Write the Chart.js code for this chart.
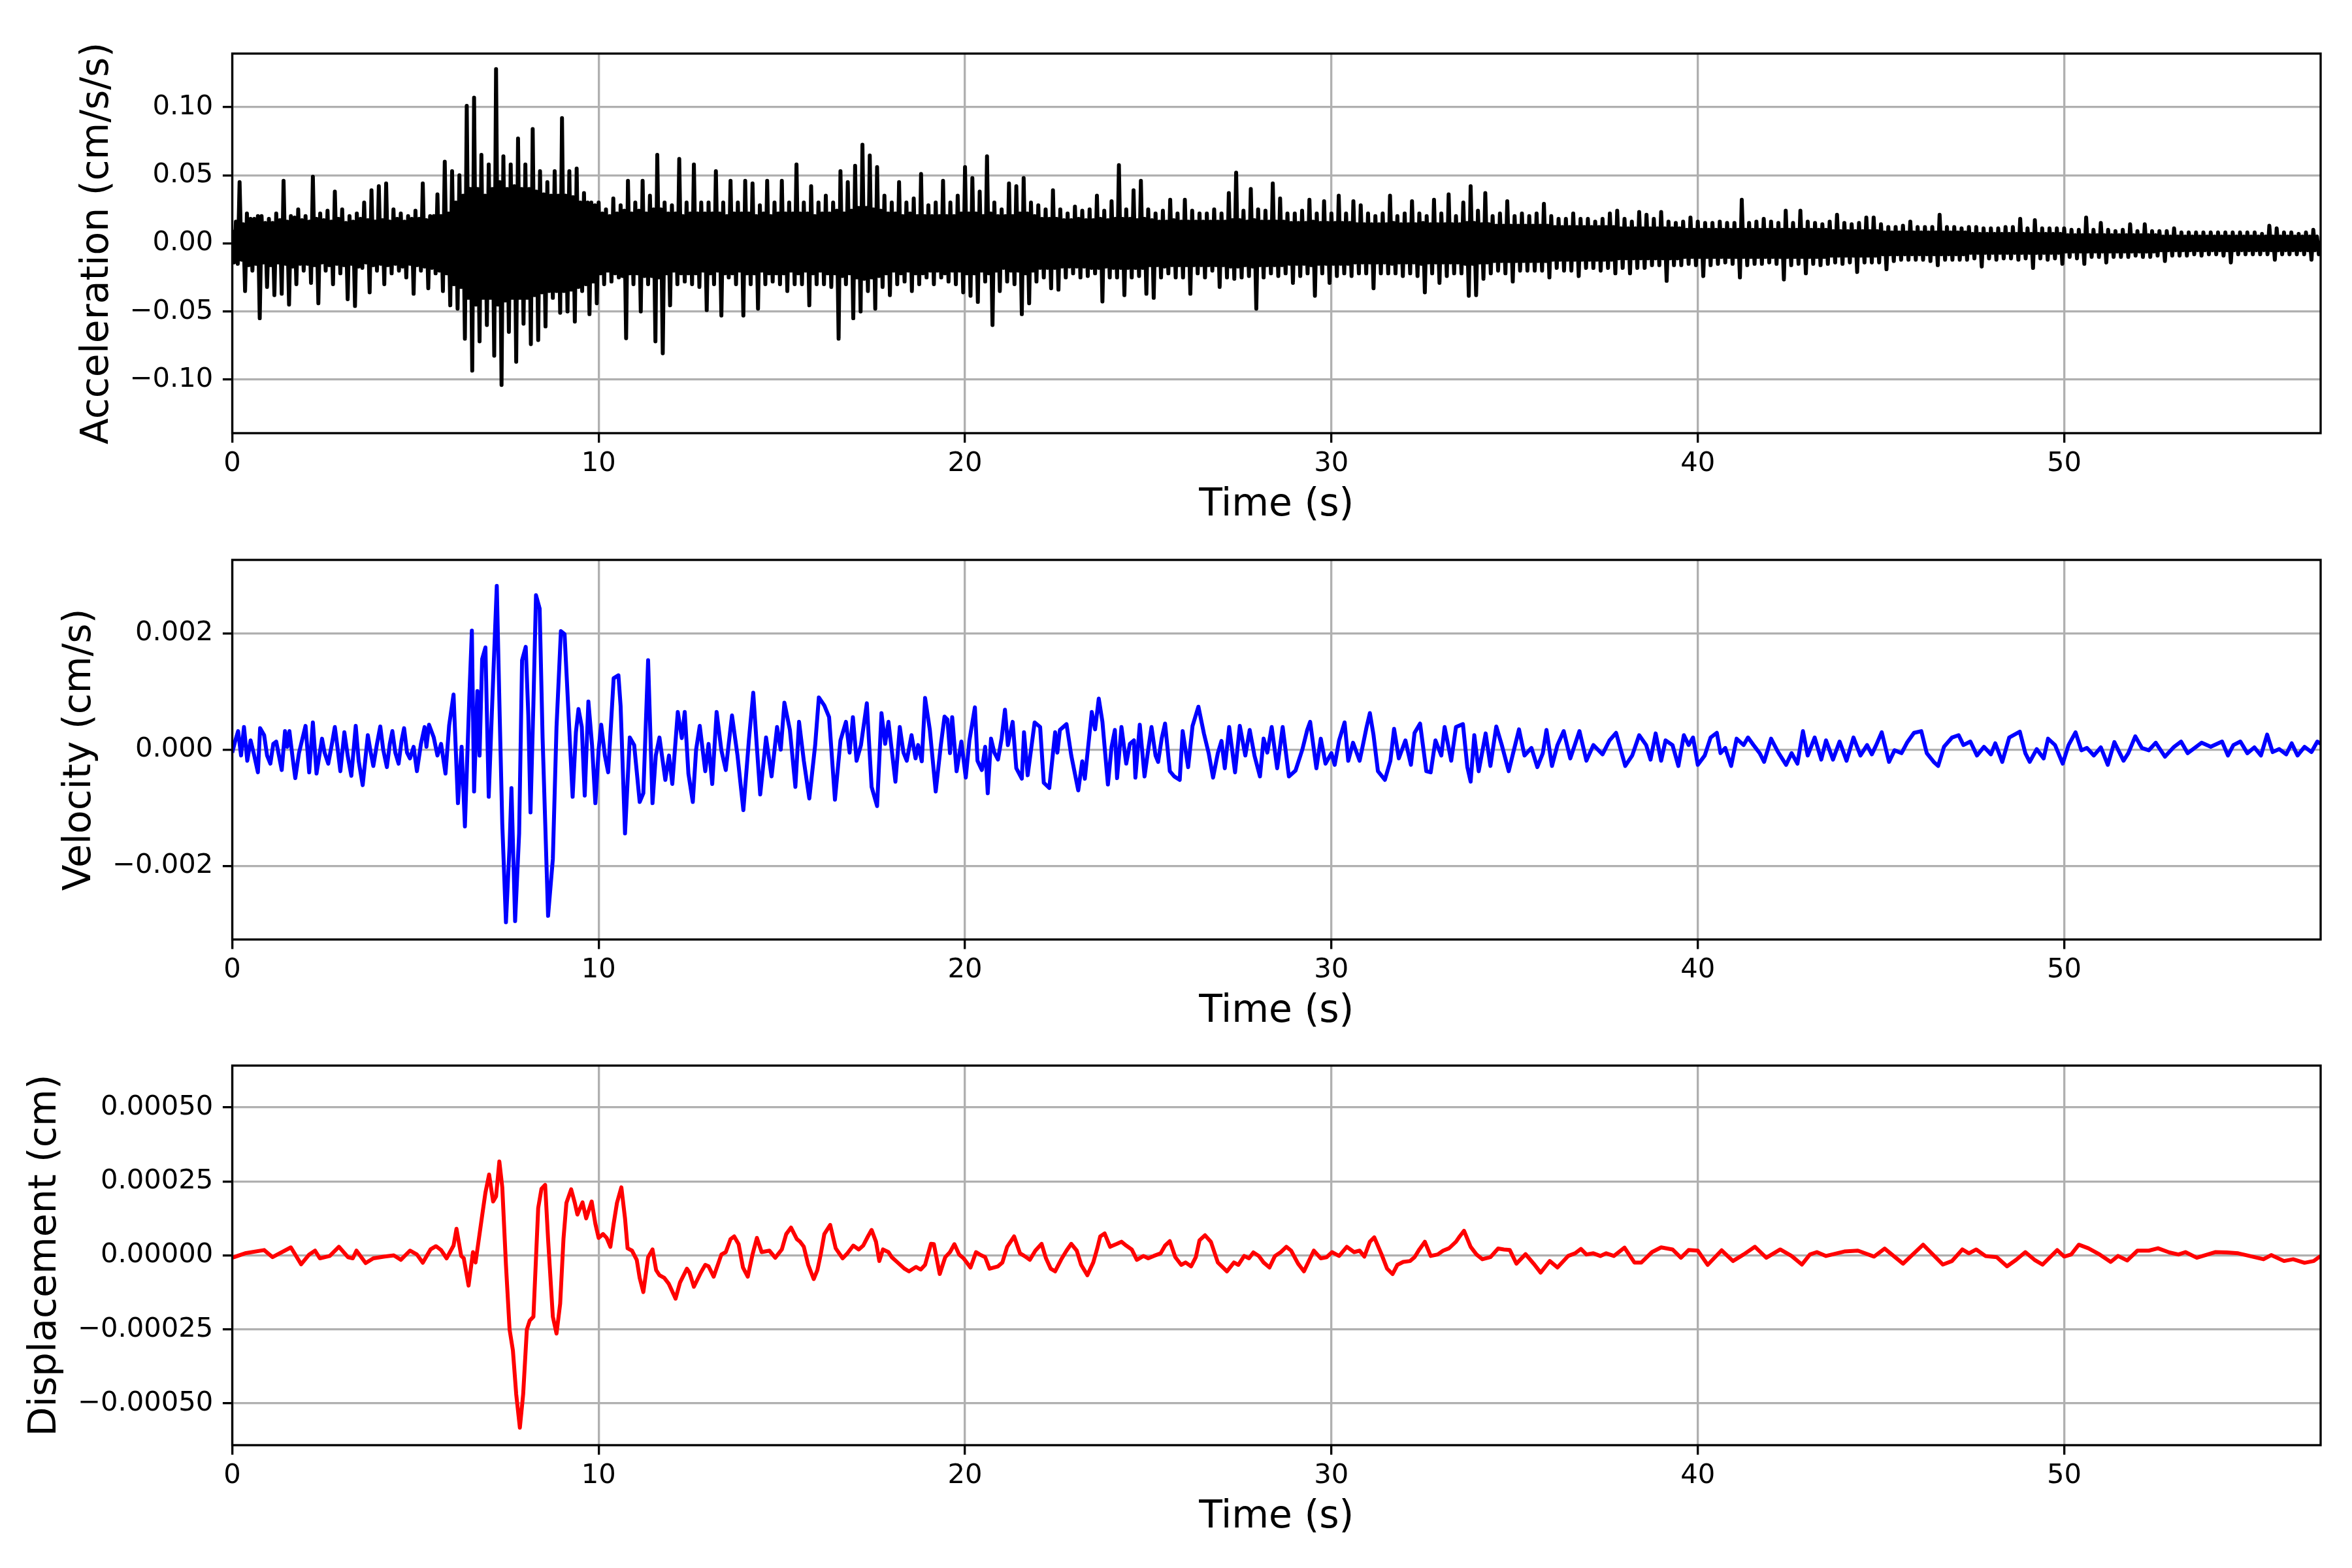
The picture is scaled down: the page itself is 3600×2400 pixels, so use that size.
<!DOCTYPE html>
<html>
<head>
<meta charset="utf-8">
<script src="https://cdn.jsdelivr.net/npm/chart.js@4.4.1/dist/chart.umd.min.js"></script>
<style>
  html, body { margin: 0; padding: 0; background: #fff; }
  body { width: 3600px; height: 2400px; position: relative; overflow: hidden; }
  canvas { position: absolute; left: 0; }
</style>
</head>
<body>
<canvas id="acc" width="3600" height="813" style="top:0px"></canvas>
<canvas id="vel" width="3600" height="771" style="top:817px"></canvas>
<canvas id="disp" width="3600" height="771" style="top:1591px"></canvas>
<script>
// time axis
const timeTicks = [0, 10, 20, 30, 40, 50];
const timeMax = 57.0;

// acceleration: upper and lower swing in each 0.1 s slot (lower one half a slot later)
const accStep = 0.1;
const accUpper = [
  0.01,0.016,0.045,0.014,0.022,0.018,0.018,0.02,0.02,0.015,
  0.018,0.015,0.022,0.017,0.046,0.016,0.02,0.019,0.025,0.017,
  0.02,0.016,0.049,0.018,0.022,0.017,0.024,0.016,0.038,0.018,
  0.025,0.015,0.02,0.016,0.022,0.018,0.03,0.017,0.039,0.016,
  0.042,0.017,0.044,0.016,0.025,0.018,0.022,0.016,0.02,0.018,
  0.024,0.018,0.044,0.017,0.02,0.02,0.036,0.02,0.06,0.022,
  0.053,0.03,0.05,0.035,0.101,0.04,0.107,0.04,0.065,0.035,
  0.058,0.04,0.128,0.045,0.064,0.04,0.058,0.042,0.077,0.04,
  0.058,0.04,0.084,0.038,0.053,0.036,0.045,0.035,0.053,0.035,
  0.092,0.035,0.053,0.034,0.055,0.03,0.037,0.03,0.03,0.028,
  0.03,0.022,0.025,0.02,0.033,0.022,0.028,0.024,0.046,0.022,
  0.03,0.024,0.046,0.022,0.035,0.025,0.065,0.025,0.03,0.022,
  0.028,0.022,0.062,0.02,0.03,0.022,0.058,0.022,0.03,0.022,
  0.03,0.022,0.053,0.022,0.03,0.02,0.046,0.022,0.03,0.022,
  0.046,0.022,0.044,0.02,0.028,0.022,0.046,0.02,0.03,0.022,
  0.046,0.022,0.03,0.022,0.058,0.022,0.03,0.022,0.042,0.02,
  0.03,0.022,0.035,0.022,0.03,0.024,0.053,0.022,0.045,0.024,
  0.057,0.026,0.0725,0.026,0.0645,0.025,0.056,0.024,0.035,0.022,
  0.03,0.022,0.045,0.02,0.03,0.022,0.033,0.02,0.051,0.02,
  0.028,0.02,0.03,0.02,0.046,0.02,0.03,0.02,0.035,0.022,
  0.056,0.022,0.048,0.022,0.038,0.02,0.064,0.022,0.03,0.02,
  0.025,0.02,0.044,0.02,0.042,0.022,0.048,0.022,0.03,0.02,
  0.028,0.018,0.025,0.018,0.039,0.018,0.025,0.017,0.022,0.017,
  0.027,0.018,0.024,0.017,0.025,0.017,0.035,0.018,0.024,0.017,
  0.031,0.018,0.0575,0.018,0.025,0.018,0.039,0.017,0.046,0.018,
  0.025,0.017,0.022,0.016,0.024,0.016,0.032,0.017,0.022,0.016,
  0.032,0.016,0.024,0.016,0.022,0.016,0.022,0.016,0.025,0.016,
  0.022,0.016,0.037,0.017,0.052,0.017,0.024,0.016,0.04,0.017,
  0.025,0.016,0.024,0.016,0.044,0.016,0.033,0.016,0.022,0.015,
  0.022,0.015,0.024,0.015,0.032,0.016,0.022,0.015,0.031,0.015,
  0.022,0.015,0.035,0.015,0.022,0.015,0.031,0.014,0.028,0.014,
  0.022,0.014,0.02,0.014,0.022,0.014,0.035,0.015,0.02,0.014,
  0.022,0.014,0.031,0.014,0.022,0.015,0.02,0.014,0.032,0.014,
  0.022,0.014,0.036,0.014,0.02,0.014,0.03,0.015,0.042,0.015,
  0.024,0.014,0.037,0.014,0.02,0.013,0.022,0.013,0.031,0.013,
  0.02,0.013,0.022,0.013,0.02,0.013,0.022,0.013,0.029,0.013,
  0.02,0.012,0.018,0.012,0.018,0.012,0.022,0.012,0.018,0.012,
  0.018,0.012,0.016,0.012,0.018,0.012,0.022,0.012,0.024,0.011,
  0.018,0.011,0.016,0.011,0.023,0.011,0.021,0.011,0.018,0.011,
  0.023,0.011,0.016,0.011,0.015,0.011,0.016,0.01,0.019,0.01,
  0.016,0.01,0.015,0.01,0.015,0.01,0.016,0.01,0.015,0.01,
  0.015,0.01,0.032,0.01,0.015,0.01,0.016,0.01,0.018,0.01,
  0.016,0.01,0.015,0.01,0.024,0.01,0.015,0.01,0.024,0.01,
  0.016,0.01,0.015,0.01,0.014,0.01,0.016,0.009,0.021,0.009,
  0.015,0.009,0.014,0.009,0.015,0.009,0.019,0.009,0.019,0.009,
  0.014,0.008,0.012,0.008,0.012,0.008,0.013,0.008,0.016,0.008,
  0.012,0.008,0.012,0.008,0.012,0.008,0.021,0.008,0.012,0.008,
  0.012,0.008,0.011,0.008,0.012,0.007,0.012,0.007,0.011,0.007,
  0.011,0.007,0.011,0.007,0.012,0.007,0.012,0.007,0.018,0.007,
  0.011,0.007,0.017,0.007,0.011,0.007,0.011,0.007,0.011,0.007,
  0.011,0.006,0.01,0.006,0.01,0.006,0.019,0.006,0.01,0.006,
  0.015,0.006,0.01,0.006,0.009,0.006,0.01,0.006,0.014,0.006,
  0.009,0.006,0.014,0.006,0.009,0.006,0.009,0.005,0.009,0.005,
  0.011,0.005,0.008,0.005,0.008,0.005,0.008,0.005,0.008,0.005,
  0.008,0.005,0.008,0.005,0.008,0.005,0.008,0.005,0.008,0.005,
  0.008,0.005,0.008,0.005,0.007,0.005,0.013,0.005,0.011,0.005,
  0.008,0.005,0.008,0.005,0.007,0.005,0.008,0.005,0.01,0.005,
  0.002
];
const accLower = [
  -0.014,-0.015,-0.012,-0.035,-0.016,-0.02,-0.015,-0.055,-0.014,-0.032,
  -0.016,-0.038,-0.014,-0.037,-0.015,-0.045,-0.017,-0.03,-0.015,-0.02,
  -0.015,-0.029,-0.016,-0.044,-0.014,-0.02,-0.016,-0.03,-0.015,-0.022,
  -0.016,-0.041,-0.015,-0.046,-0.017,-0.018,-0.014,-0.036,-0.016,-0.02,
  -0.015,-0.03,-0.016,-0.022,-0.015,-0.02,-0.017,-0.025,-0.015,-0.037,
  -0.016,-0.02,-0.017,-0.033,-0.018,-0.022,-0.02,-0.035,-0.022,-0.0455,
  -0.03,-0.048,-0.032,-0.07,-0.04,-0.0935,-0.045,-0.072,-0.04,-0.06,
  -0.04,-0.0825,-0.045,-0.104,-0.042,-0.065,-0.04,-0.087,-0.04,-0.059,
  -0.04,-0.074,-0.038,-0.071,-0.036,-0.061,-0.035,-0.04,-0.035,-0.051,
  -0.035,-0.05,-0.034,-0.0575,-0.032,-0.035,-0.03,-0.052,-0.028,-0.044,
  -0.022,-0.03,-0.02,-0.028,-0.022,-0.025,-0.024,-0.0697,-0.022,-0.03,
  -0.022,-0.05,-0.024,-0.03,-0.024,-0.072,-0.025,-0.0807,-0.022,-0.0455,
  -0.02,-0.03,-0.022,-0.028,-0.022,-0.03,-0.022,-0.032,-0.02,-0.049,
  -0.022,-0.03,-0.02,-0.053,-0.022,-0.025,-0.022,-0.03,-0.02,-0.053,
  -0.022,-0.03,-0.022,-0.048,-0.02,-0.03,-0.022,-0.028,-0.022,-0.03,
  -0.022,-0.035,-0.02,-0.03,-0.022,-0.03,-0.02,-0.0455,-0.022,-0.03,
  -0.02,-0.03,-0.022,-0.032,-0.022,-0.07,-0.024,-0.03,-0.022,-0.055,
  -0.025,-0.05,-0.026,-0.035,-0.025,-0.048,-0.024,-0.032,-0.022,-0.038,
  -0.02,-0.03,-0.022,-0.028,-0.02,-0.035,-0.022,-0.03,-0.022,-0.025,
  -0.02,-0.03,-0.02,-0.025,-0.022,-0.028,-0.02,-0.03,-0.02,-0.036,
  -0.022,-0.0385,-0.022,-0.043,-0.02,-0.028,-0.022,-0.06,-0.02,-0.035,
  -0.018,-0.028,-0.02,-0.03,-0.02,-0.052,-0.022,-0.044,-0.02,-0.028,
  -0.018,-0.025,-0.018,-0.033,-0.018,-0.034,-0.017,-0.025,-0.017,-0.022,
  -0.017,-0.025,-0.017,-0.024,-0.018,-0.022,-0.018,-0.0427,-0.017,-0.025,
  -0.018,-0.025,-0.018,-0.038,-0.018,-0.025,-0.018,-0.024,-0.018,-0.037,
  -0.016,-0.04,-0.016,-0.025,-0.017,-0.022,-0.016,-0.025,-0.016,-0.025,
  -0.016,-0.037,-0.016,-0.022,-0.016,-0.025,-0.016,-0.02,-0.016,-0.032,
  -0.016,-0.025,-0.017,-0.026,-0.017,-0.025,-0.016,-0.024,-0.017,-0.048,
  -0.016,-0.025,-0.016,-0.022,-0.016,-0.024,-0.016,-0.022,-0.015,-0.029,
  -0.015,-0.024,-0.015,-0.022,-0.016,-0.0385,-0.015,-0.022,-0.015,-0.029,
  -0.015,-0.024,-0.015,-0.022,-0.015,-0.024,-0.014,-0.022,-0.014,-0.022,
  -0.014,-0.033,-0.014,-0.022,-0.014,-0.022,-0.015,-0.022,-0.014,-0.024,
  -0.014,-0.022,-0.014,-0.024,-0.015,-0.036,-0.014,-0.022,-0.014,-0.029,
  -0.014,-0.024,-0.014,-0.022,-0.014,-0.022,-0.015,-0.0385,-0.015,-0.038,
  -0.014,-0.026,-0.014,-0.022,-0.013,-0.02,-0.013,-0.022,-0.013,-0.028,
  -0.013,-0.02,-0.013,-0.02,-0.013,-0.02,-0.013,-0.02,-0.013,-0.025,
  -0.012,-0.018,-0.012,-0.02,-0.012,-0.02,-0.012,-0.024,-0.012,-0.018,
  -0.012,-0.018,-0.012,-0.02,-0.012,-0.018,-0.012,-0.022,-0.011,-0.018,
  -0.011,-0.022,-0.011,-0.018,-0.011,-0.018,-0.011,-0.016,-0.011,-0.016,
  -0.011,-0.0275,-0.011,-0.016,-0.011,-0.016,-0.01,-0.015,-0.01,-0.016,
  -0.01,-0.024,-0.01,-0.016,-0.01,-0.015,-0.01,-0.014,-0.01,-0.015,
  -0.01,-0.025,-0.01,-0.016,-0.01,-0.015,-0.01,-0.015,-0.01,-0.014,
  -0.01,-0.015,-0.01,-0.0265,-0.01,-0.016,-0.01,-0.015,-0.01,-0.022,
  -0.01,-0.015,-0.01,-0.016,-0.01,-0.015,-0.009,-0.014,-0.009,-0.015,
  -0.009,-0.014,-0.009,-0.021,-0.009,-0.014,-0.009,-0.014,-0.009,-0.014,
  -0.008,-0.019,-0.008,-0.013,-0.008,-0.012,-0.008,-0.012,-0.008,-0.012,
  -0.008,-0.012,-0.008,-0.013,-0.008,-0.016,-0.008,-0.012,-0.008,-0.012,
  -0.008,-0.012,-0.008,-0.012,-0.007,-0.011,-0.007,-0.017,-0.007,-0.011,
  -0.007,-0.012,-0.007,-0.011,-0.007,-0.011,-0.007,-0.012,-0.007,-0.011,
  -0.007,-0.018,-0.007,-0.011,-0.007,-0.012,-0.007,-0.011,-0.007,-0.015,
  -0.006,-0.01,-0.006,-0.011,-0.006,-0.015,-0.006,-0.01,-0.006,-0.01,
  -0.006,-0.014,-0.006,-0.01,-0.006,-0.01,-0.006,-0.01,-0.006,-0.009,
  -0.006,-0.01,-0.006,-0.01,-0.006,-0.009,-0.005,-0.013,-0.005,-0.009,
  -0.005,-0.009,-0.005,-0.009,-0.005,-0.008,-0.005,-0.009,-0.005,-0.008,
  -0.005,-0.008,-0.005,-0.009,-0.005,-0.014,-0.005,-0.008,-0.005,-0.008,
  -0.005,-0.008,-0.005,-0.008,-0.005,-0.008,-0.005,-0.012,-0.005,-0.008,
  -0.005,-0.008,-0.005,-0.008,-0.005,-0.008,-0.005,-0.012,-0.005,-0.008
];
const accTicks = [-0.10, -0.05, 0, 0.05, 0.10];

// velocity (cm/s)
const velTime = [
  0,0.08,0.16,0.24,0.32,0.41,0.5,0.6,0.7,0.76,
  0.87,0.95,1.04,1.12,1.2,1.35,1.44,1.5,1.56,1.65,
  1.72,1.82,1.9,2.0,2.1,2.2,2.3,2.45,2.52,2.62,
  2.72,2.8,2.88,2.95,3.06,3.15,3.25,3.37,3.45,3.56,
  3.7,3.78,3.85,3.95,4.04,4.12,4.22,4.3,4.37,4.45,
  4.54,4.62,4.69,4.77,4.85,4.95,5.04,5.15,5.25,5.3,
  5.37,5.5,5.6,5.7,5.82,5.92,6.04,6.16,6.26,6.35,
  6.47,6.54,6.6,6.69,6.75,6.82,6.91,7.0,7.1,7.22,
  7.3,7.37,7.47,7.57,7.62,7.72,7.83,7.91,8.01,8.08,
  8.14,8.22,8.29,8.39,8.47,8.62,8.75,8.85,8.97,9.07,
  9.16,9.29,9.38,9.45,9.54,9.62,9.72,9.82,9.91,10.0,
  10.07,10.17,10.26,10.41,10.54,10.6,10.72,10.85,10.97,11.12,
  11.22,11.35,11.47,11.56,11.66,11.82,11.92,12.01,12.16,12.27,
  12.35,12.45,12.57,12.66,12.76,12.91,13.0,13.1,13.22,13.35,
  13.47,13.55,13.64,13.79,13.95,14.1,14.22,14.32,14.41,14.57,
  14.72,14.87,14.97,15.07,15.22,15.37,15.47,15.6,15.75,15.91,
  16.01,16.16,16.29,16.45,16.6,16.75,16.85,16.94,17.04,17.16,
  17.32,17.45,17.6,17.72,17.82,17.91,18.1,18.22,18.32,18.41,
  18.54,18.65,18.72,18.82,18.91,19.04,19.2,19.34,19.44,19.52,
  19.59,19.65,19.77,19.9,20.02,20.12,20.27,20.34,20.46,20.55,
  20.62,20.71,20.8,20.9,21.0,21.09,21.17,21.3,21.4,21.55,
  21.61,21.71,21.9,22.05,22.15,22.3,22.46,22.52,22.59,22.77,
  22.9,23.09,23.2,23.27,23.46,23.55,23.65,23.75,23.9,24.0,
  24.09,24.15,24.27,24.4,24.5,24.61,24.65,24.77,24.9,25.0,
  25.09,25.2,25.27,25.37,25.46,25.59,25.71,25.86,25.94,26.09,
  26.21,26.37,26.52,26.65,26.77,26.9,27.0,27.09,27.21,27.37,
  27.5,27.65,27.77,27.9,28.05,28.15,28.25,28.37,28.52,28.67,
  28.84,29.02,29.21,29.34,29.42,29.59,29.71,29.84,30.0,30.09,
  30.21,30.36,30.46,30.59,30.77,30.85,30.96,31.05,31.15,31.27,
  31.46,31.61,31.71,31.84,32.02,32.17,32.27,32.42,32.59,32.71,
  32.84,33.0,33.09,33.27,33.4,33.59,33.71,33.8,33.9,34.02,
  34.21,34.34,34.5,34.65,34.84,34.96,35.12,35.27,35.46,35.62,
  35.77,35.87,36.02,36.17,36.34,36.52,36.77,36.96,37.15,37.4,
  37.59,37.77,38.02,38.21,38.4,38.59,38.71,38.85,39.0,39.12,
  39.31,39.47,39.62,39.75,39.87,40.0,40.19,40.35,40.52,40.62,
  40.75,40.91,41.06,41.25,41.37,41.52,41.69,41.81,42.0,42.19,
  42.41,42.56,42.72,42.87,43.0,43.19,43.37,43.5,43.69,43.87,
  44.06,44.25,44.44,44.62,44.75,44.87,45.02,45.22,45.37,45.56,
  45.71,45.9,46.1,46.25,46.44,46.56,46.72,46.94,47.12,47.25,
  47.44,47.62,47.81,48.0,48.12,48.31,48.5,48.79,48.94,49.06,
  49.25,49.44,49.56,49.75,49.96,50.12,50.31,50.47,50.62,50.81,
  51.0,51.19,51.37,51.62,51.75,51.94,52.12,52.31,52.5,52.75,
  53.0,53.19,53.37,53.56,53.75,54.0,54.31,54.47,54.62,54.81,
  55.0,55.19,55.37,55.54,55.69,55.87,56.06,56.21,56.37,56.56,
  56.75,56.91,57.0
];
const velValue = [
  -0.5e-4,1.5e-4,3.2e-4,-1.0e-4,3.9e-4,-1.9e-4,1.6e-4,-1.0e-4,-3.9e-4,3.7e-4,
  2.5e-4,-1.0e-4,-2.4e-4,1.0e-4,1.4e-4,-3.5e-4,3.2e-4,0.5e-4,3.2e-4,-1.5e-4,
  -4.9e-4,-0.6e-4,1.5e-4,4.1e-4,-3.9e-4,4.7e-4,-4.1e-4,1.9e-4,-0.5e-4,-2.4e-4,
  1.0e-4,3.9e-4,0,-3.7e-4,3.0e-4,-1.0e-4,-4.5e-4,4.1e-4,-1.9e-4,-6.1e-4,
  2.5e-4,-0.5e-4,-2.8e-4,1.0e-4,4.0e-4,0,-3.0e-4,1.0e-4,3.2e-4,-0.5e-4,
  -2.4e-4,1.5e-4,3.7e-4,-0.5e-4,-1.5e-4,0.5e-4,-3.7e-4,1.0e-4,3.9e-4,0.5e-4,
  4.3e-4,2.1e-4,-1.0e-4,1.0e-4,-4.1e-4,4.2e-4,9.5e-4,-9.2e-4,0.5e-4,-13.2e-4,
  9.0e-4,20.5e-4,-7.2e-4,10.1e-4,-1.0e-4,15.6e-4,17.6e-4,-8.1e-4,8.8e-4,28.2e-4,
  5.7e-4,-12.8e-4,-29.7e-4,-16.4e-4,-6.6e-4,-29.5e-4,-14.4e-4,15.4e-4,17.7e-4,6.0e-4,
  -10.8e-4,8.0e-4,26.6e-4,24.3e-4,2.1e-4,-28.6e-4,-18.8e-4,3.9e-4,20.4e-4,19.9e-4,
  8.5e-4,-8.1e-4,3.0e-4,7.0e-4,3.9e-4,-7.9e-4,8.3e-4,0.8e-4,-9.2e-4,0,
  4.3e-4,-1.0e-4,-3.9e-4,12.3e-4,12.8e-4,7.5e-4,-14.4e-4,2.1e-4,0.8e-4,-9.0e-4,
  -7.5e-4,15.4e-4,-9.2e-4,-1.0e-4,2.1e-4,-5.2e-4,-1.0e-4,-5.9e-4,6.5e-4,2.0e-4,
  6.5e-4,-4.1e-4,-9.0e-4,0,4.1e-4,-3.7e-4,1.0e-4,-5.9e-4,6.5e-4,-0.1e-4,
  -3.5e-4,1.0e-4,5.9e-4,-1.0e-4,-10.4e-4,1.6e-4,9.8e-4,0.3e-4,-7.7e-4,2.1e-4,
  -4.6e-4,3.9e-4,0,8.1e-4,3.4e-4,-6.4e-4,4.8e-4,-1.9e-4,-8.4e-4,0.8e-4,
  9.0e-4,7.6e-4,5.6e-4,-8.6e-4,1.6e-4,4.8e-4,-0.5e-4,5.6e-4,-1.9e-4,0.8e-4,
  8.0e-4,-6.4e-4,-9.7e-4,6.3e-4,1.0e-4,4.8e-4,-5.5e-4,3.9e-4,-0.5e-4,-1.9e-4,
  2.5e-4,-1.5e-4,0.8e-4,-2.0e-4,8.9e-4,3.4e-4,-7.2e-4,0.8e-4,5.7e-4,5.2e-4,
  -0.6e-4,5.6e-4,-3.7e-4,1.4e-4,-4.8e-4,1.6e-4,7.3e-4,-1.9e-4,-3.5e-4,0.5e-4,
  -7.5e-4,1.9e-4,-0.5e-4,-1.7e-4,2.0e-4,6.9e-4,0.8e-4,4.8e-4,-3.2e-4,-5.0e-4,
  3.0e-4,-4.4e-4,4.7e-4,3.9e-4,-5.7e-4,-6.6e-4,3.0e-4,-0.5e-4,3.4e-4,4.4e-4,
  -1.0e-4,-7.0e-4,-2.0e-4,-5.0e-4,6.5e-4,3.5e-4,8.8e-4,4.8e-4,-6.0e-4,0.5e-4,
  3.4e-4,-4.9e-4,3.9e-4,-2.4e-4,1.0e-4,1.6e-4,-4.8e-4,4.3e-4,-4.6e-4,0,
  3.9e-4,-1.0e-4,-2.1e-4,2.0e-4,4.5e-4,-3.7e-4,-4.6e-4,-5.2e-4,3.2e-4,-3.0e-4,
  4.1e-4,7.4e-4,2.8e-4,-0.6e-4,-4.8e-4,-0.6e-4,1.5e-4,-3.2e-4,3.9e-4,-3.9e-4,
  4.1e-4,-1.0e-4,3.4e-4,-1.0e-4,-4.6e-4,1.9e-4,-0.5e-4,3.9e-4,-3.2e-4,3.9e-4,
  -4.6e-4,-3.6e-4,0.1e-4,3.4e-4,4.8e-4,-3.2e-4,1.9e-4,-2.4e-4,-0.6e-4,-2.6e-4,
  1.6e-4,4.7e-4,-1.9e-4,1.2e-4,-1.9e-4,0.5e-4,3.9e-4,6.3e-4,2.5e-4,-3.7e-4,
  -5.2e-4,-1.9e-4,3.6e-4,-1.5e-4,1.6e-4,-2.6e-4,2.9e-4,4.5e-4,-3.7e-4,-3.9e-4,
  1.6e-4,-1.0e-4,3.9e-4,-1.9e-4,3.9e-4,4.4e-4,-3.0e-4,-5.5e-4,2.5e-4,-3.7e-4,
  2.8e-4,-2.8e-4,4.0e-4,0.8e-4,-3.7e-4,-0.6e-4,3.5e-4,-1.0e-4,0.3e-4,-3.0e-4,
  -0.6e-4,3.4e-4,-2.8e-4,0.8e-4,3.2e-4,-1.5e-4,3.2e-4,-1.9e-4,0.8e-4,-0.8e-4,
  1.6e-4,2.9e-4,-2.8e-4,-1.0e-4,2.5e-4,0.8e-4,-1.7e-4,2.8e-4,-1.9e-4,1.6e-4,
  0.8e-4,-2.8e-4,2.5e-4,0.8e-4,2.1e-4,-2.6e-4,-1.0e-4,2.1e-4,2.9e-4,-0.6e-4,
  0.3e-4,-2.8e-4,1.9e-4,0.8e-4,2.1e-4,0.8e-4,-0.6e-4,-2.1e-4,1.9e-4,-0.4e-4,
  -2.6e-4,-0.6e-4,-2.4e-4,3.2e-4,-1.0e-4,2.1e-4,-1.7e-4,1.6e-4,-1.7e-4,1.4e-4,
  -1.9e-4,2.1e-4,-1.0e-4,0.8e-4,-0.8e-4,0.8e-4,3.0e-4,-2.1e-4,-0.1e-4,-0.6e-4,
  1.2e-4,2.9e-4,3.2e-4,-0.6e-4,-2.1e-4,-2.8e-4,0.5e-4,2.1e-4,2.5e-4,0.8e-4,
  1.4e-4,-1.0e-4,0.5e-4,-0.8e-4,1.1e-4,-2.1e-4,2.1e-4,3.1e-4,-0.6e-4,-2.1e-4,
  0.1e-4,-1.5e-4,1.9e-4,0.8e-4,-2.4e-4,0.8e-4,3.0e-4,-0.1e-4,0.3e-4,-1.0e-4,
  0.4e-4,-2.6e-4,1.3e-4,-1.9e-4,-0.6e-4,2.3e-4,0.3e-4,-0.1e-4,1.2e-4,-1.2e-4,
  0.5e-4,1.4e-4,-0.6e-4,0.3e-4,1.2e-4,0.5e-4,1.4e-4,-1.0e-4,0.8e-4,1.4e-4,
  -0.6e-4,0.4e-4,-1.0e-4,2.6e-4,-0.4e-4,0.1e-4,-0.8e-4,1.1e-4,-1.0e-4,0.5e-4,
  -0.4e-4,1.4e-4,1.0e-4
];
const velTicks = [-0.002, 0, 0.002];

// displacement (cm)
const dispTime = [
  0,0.35,0.87,1.1,1.6,1.88,2.1,2.26,2.39,2.66,
  2.91,3.16,3.29,3.39,3.64,3.85,4.16,4.41,4.6,4.85,
  5.04,5.2,5.41,5.56,5.7,5.85,6.04,6.12,6.25,6.32,
  6.45,6.57,6.64,6.72,6.82,6.91,7.01,7.12,7.2,7.29,
  7.37,7.47,7.57,7.66,7.75,7.85,7.94,8.04,8.12,8.22,
  8.35,8.44,8.54,8.62,8.75,8.85,8.95,9.04,9.12,9.25,
  9.35,9.42,9.56,9.66,9.81,9.91,10.0,10.12,10.22,10.32,
  10.41,10.5,10.62,10.72,10.79,10.91,11.04,11.12,11.22,11.35,
  11.47,11.57,11.66,11.79,11.91,12.1,12.22,12.41,12.48,12.6,
  12.79,12.91,13.0,13.14,13.35,13.47,13.6,13.7,13.82,13.94,
  14.07,14.2,14.32,14.45,14.66,14.82,15.0,15.12,15.25,15.41,
  15.5,15.6,15.72,15.87,15.97,16.06,16.16,16.32,16.47,16.66,
  16.79,16.95,17.1,17.22,17.35,17.45,17.57,17.66,17.76,17.91,
  18.0,18.16,18.35,18.47,18.66,18.79,18.91,19.07,19.15,19.31,
  19.46,19.59,19.71,19.84,19.96,20.15,20.3,20.4,20.55,20.67,
  20.9,21.02,21.15,21.34,21.5,21.62,21.77,21.92,22.09,22.21,
  22.34,22.46,22.62,22.77,22.9,23.05,23.17,23.34,23.5,23.61,
  23.69,23.81,23.96,24.15,24.27,24.4,24.55,24.69,24.87,25.0,
  25.15,25.34,25.46,25.59,25.74,25.9,26.02,26.17,26.3,26.4,
  26.55,26.71,26.9,27.15,27.34,27.46,27.62,27.75,27.87,28.02,
  28.15,28.31,28.46,28.62,28.77,28.9,29.09,29.25,29.4,29.52,
  29.71,29.87,30.02,30.21,30.42,30.62,30.77,30.9,31.05,31.17,
  31.37,31.52,31.67,31.8,31.96,32.15,32.27,32.4,32.55,32.71,
  32.9,33.05,33.21,33.4,33.5,33.62,33.8,33.96,34.12,34.34,
  34.55,34.71,34.87,35.05,35.3,35.52,35.71,35.96,36.17,36.46,
  36.65,36.81,36.96,37.15,37.34,37.5,37.71,38.0,38.27,38.46,
  38.75,39.0,39.31,39.54,39.75,40.0,40.27,40.65,40.96,41.25,
  41.56,41.87,42.25,42.56,42.84,43.06,43.25,43.5,44.0,44.37,
  44.81,45.1,45.6,46.15,46.69,46.94,47.22,47.4,47.6,47.85,
  48.16,48.44,48.69,48.94,49.19,49.41,49.81,50.0,50.19,50.4,
  50.66,50.97,51.27,51.47,51.72,52.0,52.31,52.56,52.87,53.12,
  53.31,53.62,54.12,54.44,54.75,55.06,55.44,55.65,56.0,56.25,
  56.56,56.81,57.0
];
const dispValue = [
  -0.08e-4,0.07e-4,0.18e-4,-0.06e-4,0.27e-4,-0.30e-4,0.03e-4,0.16e-4,-0.10e-4,-0.02e-4,
  0.29e-4,-0.06e-4,-0.10e-4,0.16e-4,-0.26e-4,-0.10e-4,-0.04e-4,0,-0.15e-4,0.16e-4,
  0.03e-4,-0.25e-4,0.20e-4,0.31e-4,0.18e-4,-0.10e-4,0.33e-4,0.90e-4,-0.02e-4,-0.10e-4,
  -1.02e-4,0.11e-4,-0.24e-4,0.46e-4,1.34e-4,2.12e-4,2.73e-4,1.82e-4,1.99e-4,3.17e-4,
  2.30e-4,-0.32e-4,-2.51e-4,-3.21e-4,-4.69e-4,-5.82e-4,-4.69e-4,-2.51e-4,-2.20e-4,-2.07e-4,
  1.60e-4,2.25e-4,2.38e-4,0.55e-4,-2.07e-4,-2.64e-4,-1.63e-4,0.55e-4,1.77e-4,2.23e-4,
  1.77e-4,1.38e-4,1.79e-4,1.25e-4,1.82e-4,1.07e-4,0.59e-4,0.72e-4,0.59e-4,0.29e-4,
  1.07e-4,1.77e-4,2.30e-4,1.25e-4,0.24e-4,0.16e-4,-0.15e-4,-0.76e-4,-1.24e-4,-0.06e-4,
  0.20e-4,-0.50e-4,-0.67e-4,-0.76e-4,-0.95e-4,-1.46e-4,-0.92e-4,-0.45e-4,-0.58e-4,-1.06e-4,
  -0.58e-4,-0.32e-4,-0.37e-4,-0.72e-4,0.03e-4,0.11e-4,0.55e-4,0.64e-4,0.38e-4,-0.41e-4,
  -0.72e-4,0.03e-4,0.59e-4,0.11e-4,0.16e-4,-0.08e-4,0.20e-4,0.72e-4,0.94e-4,0.55e-4,
  0.46e-4,0.29e-4,-0.32e-4,-0.80e-4,-0.50e-4,0.03e-4,0.72e-4,1.03e-4,0.24e-4,-0.10e-4,
  0.07e-4,0.33e-4,0.20e-4,0.33e-4,0.64e-4,0.86e-4,0.46e-4,-0.19e-4,0.20e-4,0.11e-4,
  -0.06e-4,-0.24e-4,-0.45e-4,-0.54e-4,-0.39e-4,-0.48e-4,-0.32e-4,0.39e-4,0.38e-4,-0.63e-4,
  -0.06e-4,0.11e-4,0.38e-4,0.03e-4,-0.10e-4,-0.41e-4,0.11e-4,0.03e-4,-0.06e-4,-0.45e-4,
  -0.37e-4,-0.24e-4,0.29e-4,0.64e-4,0.07e-4,-0.02e-4,-0.15e-4,0.16e-4,0.39e-4,-0.10e-4,
  -0.45e-4,-0.54e-4,-0.15e-4,0.16e-4,0.39e-4,0.16e-4,-0.32e-4,-0.67e-4,-0.24e-4,0.24e-4,
  0.64e-4,0.74e-4,0.29e-4,0.39e-4,0.46e-4,0.33e-4,0.20e-4,-0.15e-4,-0.02e-4,-0.10e-4,
  -0.02e-4,0.07e-4,0.33e-4,0.48e-4,-0.06e-4,-0.32e-4,-0.24e-4,-0.37e-4,-0.06e-4,0.51e-4,
  0.68e-4,0.46e-4,-0.24e-4,-0.54e-4,-0.24e-4,-0.32e-4,-0.02e-4,-0.10e-4,0.10e-4,-0.02e-4,
  -0.24e-4,-0.41e-4,-0.02e-4,0.11e-4,0.29e-4,0.16e-4,-0.28e-4,-0.54e-4,-0.15e-4,0.16e-4,
  -0.10e-4,-0.06e-4,0.11e-4,-0.02e-4,0.29e-4,0.11e-4,0.16e-4,-0.04e-4,0.46e-4,0.61e-4,
  0.03e-4,-0.45e-4,-0.63e-4,-0.32e-4,-0.22e-4,-0.19e-4,-0.06e-4,0.20e-4,0.46e-4,-0.02e-4,
  0.03e-4,0.16e-4,0.24e-4,0.46e-4,0.64e-4,0.83e-4,0.29e-4,0.03e-4,-0.13e-4,-0.06e-4,
  0.23e-4,0.20e-4,0.18e-4,-0.28e-4,0.04e-4,-0.28e-4,-0.58e-4,-0.19e-4,-0.41e-4,-0.02e-4,
  0.07e-4,0.22e-4,0.03e-4,0.07e-4,-0.02e-4,0.07e-4,-0.02e-4,0.26e-4,-0.24e-4,-0.24e-4,
  0.11e-4,0.27e-4,0.20e-4,-0.08e-4,0.18e-4,0.16e-4,-0.32e-4,0.17e-4,-0.19e-4,0.03e-4,
  0.29e-4,-0.08e-4,0.20e-4,-0.02e-4,-0.31e-4,0.03e-4,0.11e-4,-0.02e-4,0.13e-4,0.16e-4,
  -0.04e-4,0.23e-4,-0.28e-4,0.36e-4,-0.31e-4,-0.19e-4,0.20e-4,0.07e-4,0.20e-4,-0.02e-4,
  -0.06e-4,-0.37e-4,-0.15e-4,0.11e-4,-0.15e-4,-0.31e-4,0.18e-4,-0.04e-4,0.03e-4,0.36e-4,
  0.24e-4,0.03e-4,-0.22e-4,-0.02e-4,-0.17e-4,0.16e-4,0.16e-4,0.24e-4,0.10e-4,0.03e-4,
  0.11e-4,-0.08e-4,0.11e-4,0.10e-4,0.07e-4,-0.02e-4,-0.13e-4,0.01e-4,-0.19e-4,-0.13e-4,
  -0.25e-4,-0.19e-4,-0.02e-4
];
const dispTicks = [-0.0005, -0.00025, 0, 0.00025, 0.0005];

const FONT = 'DejaVu Sans';
const MINUS = '\u2212';

// draws the four spines around the plot area
const framePlugin = {
  id: 'frame',
  afterDatasetsDraw(chart) {
    const { ctx, chartArea: a } = chart;
    ctx.save();
    ctx.strokeStyle = '#000';
    ctx.lineWidth = 3.33;
    ctx.strokeRect(a.left, a.top, a.right - a.left, a.bottom - a.top);
    ctx.restore();
  }
};

function makeChart(id, points, color, yLim, yTicks, decimals, yTitle, yTitlePad, padTop) {
  const ctx = document.getElementById(id);
  return new Chart(ctx, {
    type: 'line',
    data: {
      datasets: [{
        data: points,
        borderColor: color,
        borderWidth: 6,
        borderJoinStyle: 'round',
        pointRadius: 0,
        tension: 0,
        fill: false
      }]
    },
    options: {
      responsive: false,
      animation: false,
      devicePixelRatio: 1,
      parsing: false,
      normalized: true,
      layout: { padding: { left: 0, right: 48, top: padTop, bottom: 0 } },
      plugins: { legend: { display: false }, tooltip: { enabled: false } },
      scales: {
        x: {
          type: 'linear',
          min: 0,
          max: timeMax,
          afterBuildTicks: (s) => { s.ticks = timeTicks.map(v => ({ value: v })); },
          afterFit: (s) => { s.height = 150; },
          border: { display: false },
          grid: { color: '#b0b0b0', lineWidth: 3.33, tickColor: '#000', tickLength: 14.6, tickWidth: 3.33 },
          ticks: {
            color: '#000', padding: 12, maxRotation: 0, autoSkip: false,
            font: { family: FONT, size: 41.67, lineHeight: 1 },
            callback: (v) => String(v)
          },
          title: {
            display: true, text: 'Time (s)', color: '#000',
            font: { family: FONT, size: 58.33, lineHeight: 1 },
            padding: { top: 0, bottom: 10 }
          }
        },
        y: {
          type: 'linear',
          min: -yLim,
          max: yLim,
          afterBuildTicks: (s) => { s.ticks = yTicks.map(v => ({ value: v })); },
          afterFit: (s) => { s.width = 355.5; },
          border: { display: false },
          grid: { color: '#b0b0b0', lineWidth: 3.33, tickColor: '#000', tickLength: 14.6, tickWidth: 3.33 },
          ticks: {
            color: '#000', padding: 14.6, autoSkip: false,
            font: { family: FONT, size: 41.67, lineHeight: 1 },
            callback: (v) => Number(v).toFixed(decimals).replace('-', MINUS)
          },
          title: {
            display: true, text: yTitle, color: '#000',
            font: { family: FONT, size: 58.33, lineHeight: 1 },
            padding: { top: yTitlePad, bottom: 0 }
          }
        }
      }
    },
    plugins: [framePlugin]
  });
}

// upper swing at the start of each slot, lower swing half a slot later
const accPoints = [];
accUpper.forEach((u, k) => {
  accPoints.push({ x: k * accStep, y: u });
  if (k < accLower.length) accPoints.push({ x: k * accStep + accStep / 2, y: accLower[k] });
});
const velPoints = velTime.map((t, i) => ({ x: t, y: velValue[i] }));
const dispPoints = dispTime.map((t, i) => ({ x: t, y: dispValue[i] }));

makeChart('acc', accPoints, '#000000', 0.1394, accTicks, 2, 'Acceleration (cm/s/s)', 120.3, 82);
makeChart('vel', velPoints, '#0000ff', 0.003267, velTicks, 3, 'Velocity (cm/s)', 93.8, 40);
makeChart('disp', dispPoints, '#ff0000', 0.000641, dispTicks, 5, 'Displacement (cm)', 40.3, 40);
</script>
</body>
</html>
